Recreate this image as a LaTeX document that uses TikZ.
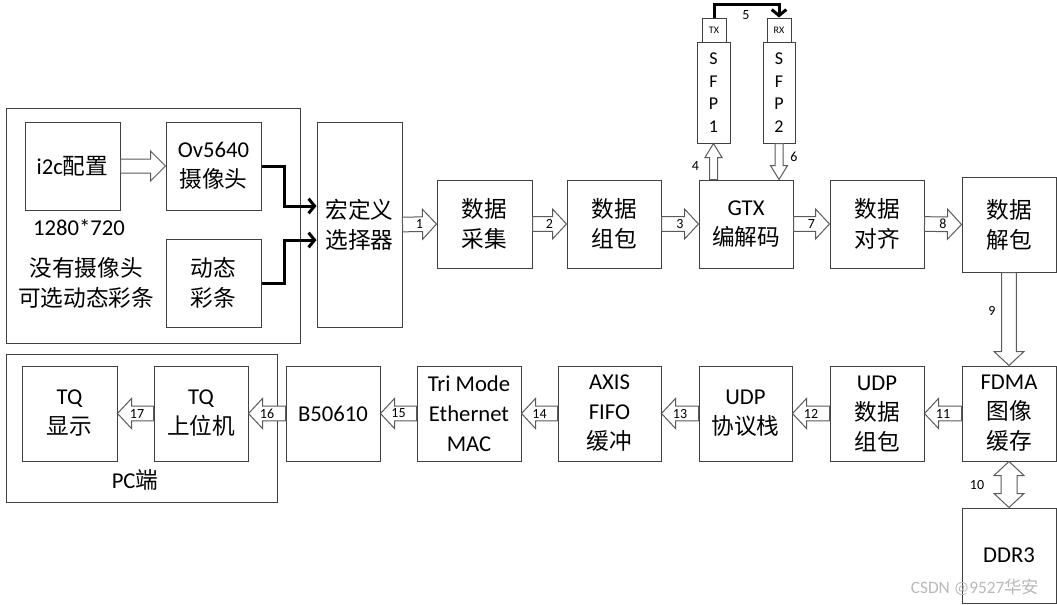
\documentclass[tikz,border=0pt]{standalone}
\usepackage{fontspec}
\setmainfont{Carlito}
\newfontfamily\cjk{Noto Sans CJK SC}
\usetikzlibrary{calc,arrows.meta}
\definecolor{bxc}{RGB}{64,64,64}
\definecolor{arc}{RGB}{90,90,90}
\definecolor{wm}{RGB}{185,185,185}
% hollow block arrow: #1 tail, #2 tip, #3 shaft half width, #4 head half width, #5 head length
\newcommand\barr[5]{%
  \coordinate (bb) at ($(#2)!#5!(#1)$);
  \draw[hollow] ($(#1)!#3!90:(#2)$) -- ($(bb)!#3!90:(#2)$) -- ($(bb)!#4!90:(#2)$) -- (#2)
    -- ($(bb)!#4!-90:(#2)$) -- ($(bb)!#3!-90:(#2)$) -- ($(#1)!#3!-90:(#2)$) -- cycle;
}
\begin{document}
\begin{tikzpicture}[x=0.75pt,y=-0.75pt,
  bx/.style 2 args={draw=bxc, line width=0.75pt, fill=white, minimum width=#1*0.75pt,
    minimum height=#2*0.75pt, inner sep=0pt, align=center, font=\fontsize{17}{22.5}\selectfont},
  txt/.style={inner sep=0pt, align=center, font=\fontsize{17}{22.5}\selectfont},
  lbl/.style={inner sep=0pt, font=\fontsize{10.5}{12}\selectfont},
  hollow/.style={draw=arc, fill=white, line width=0.75pt, line join=miter},
  thk/.style={line width=2.25pt, -{Straight Barb[length=4.5pt,width=11pt]}}]
\useasboundingbox (0,0) rectangle (1057,604);
% groups
\node[bx={294}{235},fill=none] (grp) at (153,225.5) {};
\node[bx={271}{148},fill=none] (pcg) at (141.5,428) {};
% left group
\node[bx={95}{88}] (i2c) at (72.5,166) {i2c\cjk 配置};
\node[bx={95}{88}] (ov) at (213.5,166) {Ov5640\\\cjk 摄像头};
\node[bx={95}{88}] (dyn) at (213.5,283) {\cjk 动态\\\cjk 彩条};
\node[txt] (res) at (79,228) {1280*720};
\node[txt] (nocam) at (86,283) {\cjk 没有摄像头\\\cjk 可选动态彩条};
\node[bx={85}{205}] (sel) at (359.5,224.5) {\cjk 宏定义\\\cjk 选择器};
% top row
\node[bx={95}{88}] (cap) at (484.5,224) {\cjk 数据\\\cjk 采集};
\node[bx={94}{88}] (pack) at (614,224) {\cjk 数据\\\cjk 组包};
\node[bx={94}{88}] (gtx) at (746,224) {GTX\\\cjk 编解码};
\node[bx={94}{88}] (aln) at (877,224) {\cjk 数据\\\cjk 对齐};
\node[bx={94}{95}] (unp) at (1009,224.5) {\cjk 数据\\\cjk 解包};
% SFP
\node[bx={33}{101},font=\fontsize{13.5}{17}\selectfont] (sfp1) at (713.5,92.5) {S\\F\\P\\1};
\node[bx={32}{101},font=\fontsize{13.5}{17}\selectfont] (sfp2) at (779,92.5) {S\\F\\P\\2};
\node[bx={24}{24},font=\fontsize{7.5}{9}\selectfont] (tx) at (714,30) {TX};
\node[bx={24}{24},font=\fontsize{7.5}{9}\selectfont] (rx) at (779,30) {RX};
% bottom row
\node[bx={94}{95}] (fdma) at (1009,413.5) {FDMA\\\cjk 图像\\\cjk 缓存};
\node[bx={94}{95}] (udppk) at (877,413.5) {UDP\\\cjk 数据\\\cjk 组包};
\node[bx={93}{95}] (udp) at (745.5,413.5) {UDP\\\cjk 协议栈};
\node[bx={103}{95}] (axis) at (609.5,413.5) {AXIS\\FIFO\\\cjk 缓冲};
\node[bx={104}{95}] (tri) at (469,413.5) {Tri Mode\\Ethernet\\MAC};
\node[bx={94}{95}] (b5) at (333,413.5) {B50610};
\node[bx={94}{95}] (host) at (201,413.5) {TQ\\\cjk 上位机};
\node[bx={95}{95}] (disp) at (69.5,413.5) {TQ\\\cjk 显示};
\node[txt] (pclbl) at (135,480) {PC\cjk 端};
\node[bx={94}{95}] (ddr) at (1009,555.5) {DDR3};
% thick connectors
\draw[thk] (ov.east) -- ($(ov.east)+(23,0)$) |- ($(sel.west)+(0,-18.5)$);
\draw[thk] (dyn.east) -- ($(dyn.east)+(23,0)$) |- ($(sel.west)+(0,15.5)$);
\draw[thk] (tx.north) -- ($(tx.north)+(0,-13)$) -| (rx.north);
\node[lbl] (l5) at (746,15) {5};
% hollow arrows
\barr{i2c.east}{ov.west}{5.25pt}{11.25pt}{11.25pt}
\barr{sel.east}{cap.west}{5.5pt}{11.25pt}{10.5pt}
\barr{cap.east}{pack.west}{5.5pt}{11.25pt}{10.5pt}
\barr{pack.east}{gtx.west}{5.5pt}{11.25pt}{10.5pt}
\barr{gtx.east}{aln.west}{5.5pt}{11.25pt}{10.5pt}
\barr{aln.east}{unp.west}{5.5pt}{11.25pt}{10.5pt}
\node[lbl] (l1) at ($(sel.east)!0.5!(cap.west)$) {1};
\node[lbl] (l2) at ($(cap.east)!0.5!(pack.west)$) {2};
\node[lbl] (l3) at ($(pack.east)!0.5!(gtx.west)$) {3};
\node[lbl] (l7) at ($(gtx.east)!0.5!(aln.west)$) {7};
\node[lbl] (l8) at ($(aln.east)!0.5!(unp.west)$) {8};
\coordinate (g4) at (gtx.north -| sfp1.south);
\coordinate (g6) at (gtx.north -| sfp2.south);
\barr{g4}{sfp1.south}{3pt}{6.4pt}{10.5pt}
\barr{sfp2.south}{g6}{3pt}{6.4pt}{10.5pt}
\node[lbl] (l4) at ($(g4)!0.5!(sfp1.south)+(-18,4.5)$) {4};
\node[lbl] (l6) at ($(g6)!0.5!(sfp2.south)+(15,-4.5)$) {6};
\barr{unp.south}{fdma.north}{5.6pt}{11.25pt}{10.5pt}
\node[lbl] (l9) at ($(unp.south)!0.5!(fdma.north)+(-17,-8)$) {9};
\barr{fdma.west}{udppk.east}{5.5pt}{11.25pt}{10.5pt}
\barr{udppk.west}{udp.east}{5.5pt}{11.25pt}{10.5pt}
\barr{udp.west}{axis.east}{5.5pt}{11.25pt}{10.5pt}
\barr{axis.west}{tri.east}{5.5pt}{11.25pt}{10.5pt}
\barr{tri.west}{b5.east}{5.5pt}{11.25pt}{10.5pt}
\barr{b5.west}{host.east}{5.5pt}{11.25pt}{10.5pt}
\barr{host.west}{disp.east}{5.5pt}{11.25pt}{10.5pt}
\node[lbl] (l11) at ($(fdma.west)!0.5!(udppk.east)$) {11};
\node[lbl] (l12) at ($(udppk.west)!0.5!(udp.east)$) {12};
\node[lbl] (l13) at ($(udp.west)!0.5!(axis.east)$) {13};
\node[lbl] (l14) at ($(axis.west)!0.5!(tri.east)$) {14};
\node[lbl] (l15) at ($(tri.west)!0.5!(b5.east)$) {15};
\node[lbl] (l16) at ($(b5.west)!0.5!(host.east)$) {16};
\node[lbl] (l17) at ($(host.west)!0.5!(disp.east)+(1.5,0)$) {17};
% double arrow 10
\coordinate (ca) at ($(fdma.south)!10.5pt!(ddr.north)$);
\coordinate (cb) at ($(ddr.north)!10.5pt!(fdma.south)$);
\draw[hollow] (fdma.south) -- ($(ca)!11.25pt!90:(ddr.north)$) -- ($(ca)!6pt!90:(ddr.north)$)
  -- ($(cb)!6pt!90:(ddr.north)$) -- ($(cb)!11.25pt!90:(ddr.north)$) -- (ddr.north)
  -- ($(cb)!11.25pt!-90:(ddr.north)$) -- ($(cb)!6pt!-90:(ddr.north)$)
  -- ($(ca)!6pt!-90:(ddr.north)$) -- ($(ca)!11.25pt!-90:(ddr.north)$) -- cycle;
\node[lbl] (l10) at ($(fdma.south)!0.5!(ddr.north)+(-32,0)$) {10};
% watermark
\node[inner sep=0pt, font=\fontsize{13}{15}\selectfont, text=wm] (wmk) at (975,587) {CSDN @9527\cjk 华安};
\end{tikzpicture}
\end{document}
